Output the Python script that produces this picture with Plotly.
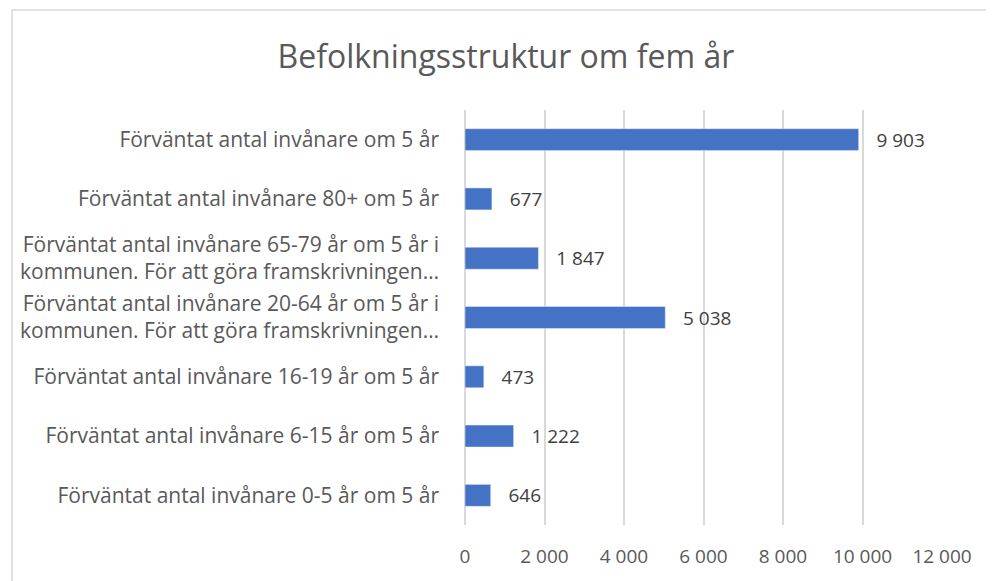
import plotly.graph_objects as go

categories = [
    "Förväntat antal invånare 0-5 år om 5 år",
    "Förväntat antal invånare 6-15 år om 5 år",
    "Förväntat antal invånare 16-19 år om 5 år",
    "Förväntat antal invånare 20-64 år om 5 år i<br>kommunen. För att göra framskrivningen…",
    "Förväntat antal invånare 65-79 år om 5 år i<br>kommunen. För att göra framskrivningen…",
    "Förväntat antal invånare 80+ om 5 år",
    "Förväntat antal invånare om 5 år",
]
values = [646, 1222, 473, 5038, 1847, 677, 9903]
tick_vals = [0, 2000, 4000, 6000, 8000, 10000, 12000]

FONT = "Open Sans"
TXT = "#595959"

fig = go.Figure(go.Bar(
    y=categories, x=values, orientation="h",
    marker=dict(color="#4472C4"),
    width=0.37,
    text=values, texttemplate="   %{x:,}", textposition="outside",
    constraintext="none",
    textfont=dict(family=FONT, size=19, color="#404040"),
    cliponaxis=False,
))

fig.update_layout(
    width=986, height=573,
    margin=dict(l=454, r=52, t=102, b=46),
    paper_bgcolor="white", plot_bgcolor="white",
    separators=", ",
    title=dict(text="Befolkningsstruktur om fem år", x=0.505, xanchor="center",
               y=0.915, yanchor="middle",
               font=dict(family=FONT, size=32, color=TXT)),
    xaxis=dict(range=[0, 12000], tickvals=tick_vals, tickformat=",",
               showgrid=True, gridcolor="#d9d9d9", gridwidth=1.5,
               zeroline=True, zerolinecolor="#d9d9d9", zerolinewidth=1.5,
               showline=False, ticks="", ticklabelstandoff=18,
               tickfont=dict(family=FONT, size=19, color=TXT)),
    yaxis=dict(showgrid=False, zeroline=False, showline=False, ticks="",
               ticklabelstandoff=25,
               tickfont=dict(family=FONT, size=21, color=TXT)),
    showlegend=False,
    shapes=[dict(type="rect", xref="paper", yref="paper",
                 xsizemode="pixel", ysizemode="pixel",
                 xanchor=0, yanchor=1,
                 x0=-453, x1=700, y0=100, y1=-700,
                 line=dict(color="#d9d9d9", width=1.5),
                 fillcolor="rgba(0,0,0,0)", layer="below")],
)

fig.write_html("out.html")
